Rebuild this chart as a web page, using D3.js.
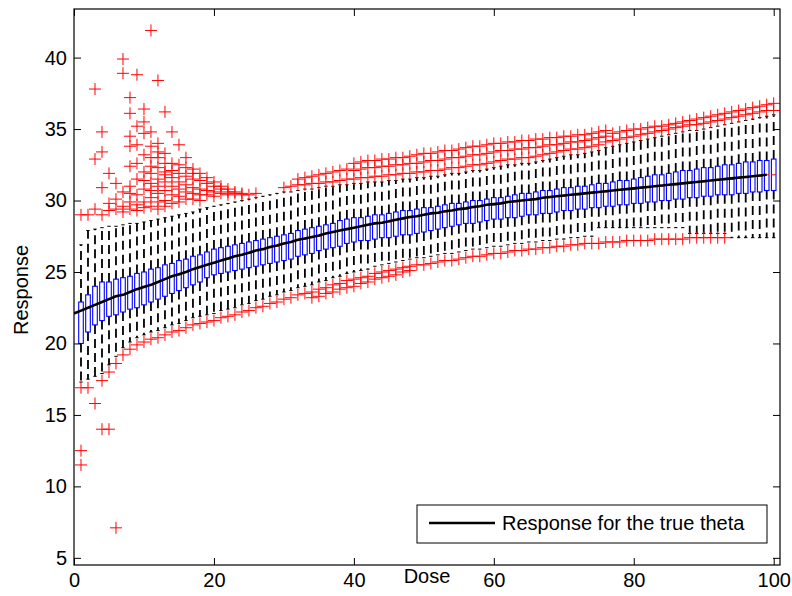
<!DOCTYPE html>
<html>
<head>
<meta charset="utf-8">
<script src="https://cdn.jsdelivr.net/npm/d3@7"></script>
<style>
  html, body { margin: 0; padding: 0; background: #fff; }
  svg text { font-family: "Liberation Sans", Arial, Helvetica, sans-serif; }
</style>
</head>
<body>
<div id="chart"></div>
<script>

// ---- data ----
var doses = d3.range(1, 101);

var boxLow = [20.0, 20.8, 21.3, 21.6, 21.9, 22.0, 22.2, 22.4, 22.5, 22.7,
  22.9, 23.1, 23.3, 23.5, 23.7, 23.9, 24.1, 24.3, 24.6, 24.8,
  24.9, 25.0, 25.1, 25.2, 25.3, 25.4, 25.5, 25.6, 25.7, 25.8,
  25.9, 26.1, 26.2, 26.3, 26.5, 26.6, 26.7, 26.8, 27.0, 27.1,
  27.2, 27.2, 27.3, 27.4, 27.4, 27.5, 27.6, 27.6, 27.7, 27.8,
  27.9, 28.0, 28.1, 28.2, 28.3, 28.4, 28.4, 28.5, 28.6, 28.7,
  28.7, 28.8, 28.8, 28.9, 29.0, 29.0, 29.1, 29.1, 29.2, 29.3,
  29.3, 29.4, 29.4, 29.5, 29.5, 29.6, 29.6, 29.7, 29.7, 29.8,
  29.8, 29.9, 29.9, 30.0, 30.0, 30.1, 30.1, 30.2, 30.2, 30.3,
  30.3, 30.4, 30.4, 30.4, 30.5, 30.5, 30.6, 30.6, 30.7, 30.7];

var boxMedian = [22.3, 22.5, 22.7, 22.9, 23.1, 23.3, 23.4, 23.6, 23.8, 24.0,
  24.1, 24.3, 24.5, 24.7, 24.8, 25.0, 25.2, 25.3, 25.5, 25.6,
  25.8, 25.9, 26.1, 26.2, 26.3, 26.5, 26.6, 26.7, 26.8, 27.0,
  27.1, 27.2, 27.3, 27.4, 27.5, 27.7, 27.8, 27.9, 28.0, 28.1,
  28.2, 28.3, 28.4, 28.4, 28.5, 28.6, 28.7, 28.8, 28.9, 29.0,
  29.1, 29.1, 29.2, 29.3, 29.4, 29.4, 29.5, 29.6, 29.7, 29.7,
  29.8, 29.9, 29.9, 30.0, 30.0, 30.1, 30.2, 30.2, 30.3, 30.3,
  30.4, 30.4, 30.5, 30.5, 30.6, 30.6, 30.7, 30.7, 30.8, 30.8,
  30.9, 30.9, 31.0, 31.0, 31.1, 31.1, 31.2, 31.2, 31.3, 31.3,
  31.4, 31.4, 31.5, 31.5, 31.6, 31.6, 31.7, 31.7, 31.8, 31.8];

var boxHigh = [22.9, 23.4, 24.0, 24.3, 24.3, 24.5, 24.6, 24.7, 24.9, 25.0,
  25.2, 25.3, 25.5, 25.6, 25.8, 25.9, 26.1, 26.2, 26.4, 26.6,
  26.7, 26.8, 26.9, 27.0, 27.1, 27.2, 27.3, 27.4, 27.5, 27.6,
  27.7, 27.9, 28.0, 28.1, 28.2, 28.3, 28.4, 28.6, 28.7, 28.8,
  28.8, 28.9, 29.0, 29.0, 29.1, 29.2, 29.3, 29.3, 29.4, 29.5,
  29.5, 29.6, 29.7, 29.8, 29.8, 29.9, 30.0, 30.0, 30.1, 30.2,
  30.2, 30.3, 30.4, 30.5, 30.5, 30.6, 30.7, 30.7, 30.8, 30.9,
  30.9, 31.0, 31.0, 31.1, 31.2, 31.2, 31.3, 31.4, 31.4, 31.5,
  31.6, 31.7, 31.8, 31.8, 31.9, 32.0, 32.1, 32.1, 32.2, 32.3,
  32.3, 32.4, 32.5, 32.5, 32.6, 32.7, 32.7, 32.8, 32.8, 32.9];

var whiskerLow = [17.3, 17.5, 17.7, 17.9, 18.5, 19.1, 19.7, 20.1, 20.4, 20.6,
  20.8, 20.9, 21.1, 21.3, 21.4, 21.6, 21.8, 21.9, 22.0, 22.1,
  22.3, 22.4, 22.5, 22.7, 22.8, 23.0, 23.1, 23.3, 23.4, 23.6,
  23.7, 23.9, 24.0, 24.1, 24.3, 24.4, 24.6, 24.7, 24.9, 25.0,
  25.1, 25.2, 25.4, 25.5, 25.6, 25.7, 25.8, 25.9, 26.0, 26.0,
  26.1, 26.2, 26.3, 26.3, 26.4, 26.5, 26.6, 26.6, 26.7, 26.8,
  26.8, 26.9, 27.0, 27.0, 27.1, 27.1, 27.2, 27.2, 27.3, 27.3,
  27.4, 27.4, 27.5, 27.5, 28.1, 28.1, 28.1, 28.1, 28.1, 28.1,
  28.1, 28.1, 28.1, 28.1, 28.1, 28.1, 28.1, 27.7, 27.7, 27.7,
  27.7, 27.7, 27.7, 27.4, 27.4, 27.4, 27.4, 27.4, 27.4, 27.4];

var whiskerHigh = [26.9, 27.9, 28.0, 28.1, 28.2, 28.2, 28.3, 28.4, 28.4, 28.5,
  28.6, 28.7, 28.8, 28.9, 29.0, 29.1, 29.2, 29.4, 29.5, 29.6,
  29.7, 29.8, 29.9, 30.0, 30.1, 30.2, 30.3, 30.4, 30.5, 30.6,
  30.6, 30.7, 30.8, 30.8, 30.9, 31.0, 31.0, 31.1, 31.1, 31.2,
  31.2, 31.3, 31.3, 31.3, 31.4, 31.4, 31.5, 31.5, 31.6, 31.6,
  31.7, 31.7, 31.8, 31.9, 31.9, 32.0, 32.1, 32.1, 32.2, 32.3,
  32.4, 32.5, 32.5, 32.6, 32.6, 32.7, 32.8, 32.9, 33.0, 33.1,
  33.2, 33.2, 33.3, 33.4, 33.5, 33.7, 33.8, 33.9, 34.0, 34.1,
  34.2, 34.3, 34.4, 34.5, 34.6, 34.7, 34.8, 34.9, 34.9, 35.0,
  35.1, 35.2, 35.3, 35.4, 35.5, 35.6, 35.7, 35.8, 35.9, 36.0];

// outliers above the upper whisker, one list per dose
var outliersHigh = [
  [29.0], [29.0], [37.8, 32.9, 29.4], [34.8, 33.4, 30.9, 29.0], [31.9, 29.8, 29.3],
  [31.2, 30.1, 29.4], [39.9, 38.9, 30.6, 29.6, 29.2], [37.2, 36.1, 34.5, 33.8, 32.4, 31.0, 30.5, 29.9, 29.4],
  [38.8, 35.2, 33.9, 32.6, 31.5, 30.4, 29.7, 29.3], [36.4, 35.5, 34.7, 33.2, 32.0, 31.4, 30.8, 29.9, 29.5],
  [41.9, 34.8, 33.8, 33.0, 32.4, 31.9, 31.2, 30.7, 30.2, 29.6], [38.4, 34.0, 33.4, 33.0, 32.3, 31.5, 31.0, 30.5, 29.9, 29.4],
  [36.2, 33.3, 32.6, 32.0, 31.8, 31.3, 30.7, 30.0, 29.6], [34.8, 32.6, 32.1, 31.6, 31.0, 30.4, 29.8],
  [33.9, 32.5, 31.9, 31.3, 30.8, 30.3, 29.9], [33.0, 32.3, 31.7, 31.1, 30.6, 30.1],
  [32.2, 31.9, 31.5, 30.9, 30.5, 30.1], [31.9, 31.4, 30.8, 30.4, 30.0], [31.6, 31.2, 30.7, 30.4],
  [31.3, 31.0, 30.6, 30.3], [31.0, 30.8, 30.5], [30.8, 30.6, 30.4], [30.6, 30.5], [30.5, 30.4],
  [30.4], [30.5], [], [], [], [30.9],
  [31.0], [31.1, 31.5], [31.1, 31.6], [31.2, 31.7], [31.2, 31.8],
  [31.3, 31.9], [31.3, 32.0], [31.4, 32.1], [31.5, 32.2], [31.5, 32.1, 32.6],
  [31.6, 32.2, 32.7], [31.6, 32.3, 32.8], [31.7, 32.3, 32.8], [31.7, 32.4, 32.9], [31.8, 32.4, 32.9],
  [31.8, 32.5, 33.0], [31.9, 32.5, 33.0], [31.9, 32.6, 33.1], [32.0, 32.6, 33.2], [32.0, 32.7, 33.3],
  [32.1, 32.8, 33.3], [32.1, 32.8, 33.4], [32.2, 32.9, 33.5], [32.3, 33.0, 33.5], [32.3, 33.0, 33.6],
  [32.4, 33.1, 33.7], [32.5, 33.2, 33.8], [32.5, 33.2, 33.8], [32.6, 33.3, 33.9], [32.7, 33.4, 34.0],
  [32.8, 33.5, 34.0], [32.9, 33.5, 34.1], [32.9, 33.6, 34.1], [33.0, 33.6, 34.2], [33.0, 33.7, 34.2],
  [33.1, 33.7, 34.3], [33.2, 33.8, 34.3], [33.3, 33.9, 34.4], [33.4, 33.9, 34.4], [33.5, 34.0, 34.5],
  [33.6, 34.1, 34.5], [33.6, 34.1, 34.6], [33.7, 34.2, 34.6], [33.8, 34.3, 34.7], [33.9, 34.4, 34.8],
  [34.1, 34.5, 34.9], [34.2, 34.7], [34.3, 34.8], [34.4, 34.9], [34.5, 35.0],
  [34.6, 35.0], [34.7, 35.1], [34.8, 35.2], [34.9, 35.2], [35.0, 35.3],
  [35.1, 35.4], [35.2, 35.5], [35.3, 35.6], [35.3, 35.7], [35.4, 35.8],
  [35.5, 35.9], [35.6, 36.0], [35.7, 36.1], [35.8, 36.2], [35.9, 36.3],
  [36.0, 36.4], [36.1, 36.5], [36.2, 36.6], [36.3, 36.7], [36.3, 36.8]
];

// outliers below the lower whisker, one list per dose
var outliersLow = [
  [16.9, 12.5, 11.5], [16.9], [15.8], [17.4, 14.0], [18.0, 14.0],
  [18.6, 7.1], [19.2], [19.6], [19.9], [20.1],
  [20.3], [20.4], [20.6], [20.8], [20.9], [21.1], [21.3], [21.4], [21.5], [21.6],
  [21.8], [21.9], [22.0], [22.2], [22.3], [22.5], [22.6], [22.8], [22.9], [23.1],
  [23.2], [23.4], [23.5], [23.6, 23.2], [23.8, 23.3], [23.9, 23.5], [24.1, 23.6], [24.2, 23.8], [24.4, 23.9], [24.5, 24.0],
  [24.6, 24.2], [24.7, 24.3], [24.9, 24.5], [25.0, 24.6], [25.1, 24.7], [25.2, 24.8], [25.3, 25.0], [25.4, 25.1], [25.5], [25.5],
  [25.6], [25.7], [25.8], [25.8], [25.9], [26.0], [26.1], [26.1], [26.2], [26.3],
  [26.3], [26.4], [26.5], [26.5], [26.6], [26.6], [26.7], [26.7], [26.8], [26.8],
  [26.9], [26.9], [27.0], [27.0], [27.0], [27.1], [27.1], [27.1], [27.2], [27.2],
  [27.2], [27.2], [27.3], [27.3], [27.3], [27.3], [27.3], [27.4], [27.4], [27.4],
  [27.4], [27.4], [27.4], [], [], [], [], [], [], []
];

// response for the true theta
var curveDose = d3.range(0, 100);
var curveResponse = [22.1, 22.3, 22.5, 22.7, 22.9, 23.1, 23.3, 23.4, 23.6, 23.8,
  23.95, 24.1, 24.3, 24.5, 24.7, 24.85, 25.0, 25.2, 25.35, 25.5,
  25.65, 25.8, 25.95, 26.1, 26.2, 26.35, 26.5, 26.6, 26.75, 26.85,
  27.0, 27.1, 27.25, 27.35, 27.45, 27.55, 27.7, 27.8, 27.9, 28.0,
  28.1, 28.2, 28.3, 28.4, 28.45, 28.55, 28.65, 28.75, 28.85, 28.9,
  29.0, 29.1, 29.15, 29.25, 29.3, 29.4, 29.45, 29.55, 29.6, 29.7,
  29.75, 29.8, 29.9, 29.95, 30.0, 30.05, 30.1, 30.2, 30.25, 30.3,
  30.35, 30.4, 30.45, 30.5, 30.55, 30.6, 30.65, 30.7, 30.75, 30.8,
  30.85, 30.9, 30.95, 31.0, 31.05, 31.1, 31.15, 31.2, 31.25, 31.3,
  31.35, 31.4, 31.45, 31.5, 31.55, 31.6, 31.65, 31.7, 31.75, 31.8];

var xTicks = [0, 20, 40, 60, 80, 100];
var yTicks = [5, 10, 15, 20, 25, 30, 35, 40];
var legendLabel = 'Response for the true theta';


// ---- drawing ----
function drawChart() {

  var width = 792;
  var height = 596;
  var left = 74, right = 780, top = 9, bottom = 565;

  var svg = d3.select('#chart').append('svg')
    .attr('width', width).attr('height', height);

  svg.append('rect').attr('width', width).attr('height', height).attr('fill', '#fff');

  var x = d3.scaleLinear().domain([0, 100.9]).range([left, right]);
  var y = d3.scaleLinear().domain([4.5, 43.4]).range([bottom, top]);

  svg.append('clipPath').attr('id', 'plotclip')
    .append('rect').attr('x', left).attr('y', top)
    .attr('width', right - left).attr('height', bottom - top);

  var plot = svg.append('g').attr('clip-path', 'url(#plotclip)');

  var boxes = doses.map(function(d, i) {
    return {
      dose: d, q1: boxLow[i], med: boxMedian[i], q3: boxHigh[i],
      lo: whiskerLow[i], hi: whiskerHigh[i]
    };
  });

  var boxW = 4.6;
  var capW = 3.4;

  // whiskers, dashed
  plot.append('g').selectAll('line.up')
    .data(boxes).enter().append('line')
    .attr('x1', function(d) { return x(d.dose); })
    .attr('x2', function(d) { return x(d.dose); })
    .attr('y1', function(d) { return y(d.q3); })
    .attr('y2', function(d) { return y(d.hi); })
    .attr('stroke', '#000').attr('stroke-width', 1.8)
    .attr('stroke-dasharray', '9,5');

  plot.append('g').selectAll('line.down')
    .data(boxes).enter().append('line')
    .attr('x1', function(d) { return x(d.dose); })
    .attr('x2', function(d) { return x(d.dose); })
    .attr('y1', function(d) { return y(d.q1); })
    .attr('y2', function(d) { return y(d.lo); })
    .attr('stroke', '#000').attr('stroke-width', 1.8)
    .attr('stroke-dasharray', '9,5');

  // whisker caps
  var caps = plot.append('g').attr('stroke', '#000').attr('stroke-width', 1);
  caps.selectAll('line.hi').data(boxes).enter().append('line')
    .attr('x1', function(d) { return x(d.dose) - capW / 2; })
    .attr('x2', function(d) { return x(d.dose) + capW / 2; })
    .attr('y1', function(d) { return y(d.hi); })
    .attr('y2', function(d) { return y(d.hi); });
  caps.selectAll('line.lo').data(boxes).enter().append('line')
    .attr('x1', function(d) { return x(d.dose) - capW / 2; })
    .attr('x2', function(d) { return x(d.dose) + capW / 2; })
    .attr('y1', function(d) { return y(d.lo); })
    .attr('y2', function(d) { return y(d.lo); });

  // boxes
  plot.append('g').selectAll('rect')
    .data(boxes).enter().append('rect')
    .attr('x', function(d) { return x(d.dose) - boxW / 2; })
    .attr('y', function(d) { return y(d.q3); })
    .attr('width', boxW)
    .attr('height', function(d) { return y(d.q1) - y(d.q3); })
    .attr('fill', 'none').attr('stroke', '#0000ff').attr('stroke-width', 1.1);

  // medians
  plot.append('g').selectAll('line')
    .data(boxes).enter().append('line')
    .attr('x1', function(d) { return x(d.dose) - boxW / 2; })
    .attr('x2', function(d) { return x(d.dose) + boxW / 2; })
    .attr('y1', function(d) { return y(d.med); })
    .attr('y2', function(d) { return y(d.med); })
    .attr('stroke', '#ff0000').attr('stroke-width', 1);

  // outliers as red plus signs
  var pts = [];
  doses.forEach(function(d, i) {
    outliersHigh[i].forEach(function(v) { pts.push([d, v]); });
    outliersLow[i].forEach(function(v) { pts.push([d, v]); });
  });
  var s = 6;
  plot.append('g').selectAll('path')
    .data(pts).enter().append('path')
    .attr('d', function(p) {
      var cx = x(p[0]), cy = y(p[1]);
      return 'M' + (cx - s) + ',' + cy + 'H' + (cx + s) +
             'M' + cx + ',' + (cy - s) + 'V' + (cy + s);
    })
    .attr('fill', 'none').attr('stroke', '#ff0000').attr('stroke-width', 1);

  // true response curve
  var line = d3.line()
    .x(function(d, i) { return x(curveDose[i]); })
    .y(function(d) { return y(d); });
  plot.append('path').datum(curveResponse)
    .attr('d', line)
    .attr('fill', 'none').attr('stroke', '#000').attr('stroke-width', 2.6);

  // axes, ticks inside like matlab
  var fs = '20px';
  svg.append('g').attr('transform', 'translate(0,' + bottom + ')')
    .call(d3.axisBottom(x).tickValues(xTicks).tickSize(-7).tickSizeOuter(0).tickPadding(8));
  svg.append('g').attr('transform', 'translate(' + left + ',0)')
    .call(d3.axisLeft(y).tickValues(yTicks).tickSize(-7).tickSizeOuter(0).tickPadding(7));
  svg.append('g').attr('transform', 'translate(0,' + top + ')')
    .call(d3.axisTop(x).tickValues(xTicks).tickSize(-7).tickSizeOuter(0).tickFormat(''));
  svg.append('g').attr('transform', 'translate(' + right + ',0)')
    .call(d3.axisRight(y).tickValues(yTicks).tickSize(-7).tickSizeOuter(0).tickFormat(''));

  svg.selectAll('.tick text')
    .attr('font-size', fs).attr('fill', '#000')
    .style('font-family', '"Liberation Sans", Arial, sans-serif');
  svg.selectAll('.domain').remove();
  svg.selectAll('.tick line').attr('stroke', '#000');

  svg.append('rect')
    .attr('x', left).attr('y', top)
    .attr('width', right - left).attr('height', bottom - top)
    .attr('fill', 'none').attr('stroke', '#000').attr('stroke-width', 1.2);

  // axis labels
  svg.append('text')
    .attr('x', 427).attr('y', 583)
    .attr('text-anchor', 'middle').attr('font-size', fs)
    .text('Dose');

  svg.append('text')
    .attr('transform', 'translate(28,290) rotate(-90)')
    .attr('text-anchor', 'middle').attr('font-size', fs)
    .text('Response');

  // legend
  var lg = svg.append('g');
  lg.append('rect')
    .attr('x', 417).attr('y', 505).attr('width', 350).attr('height', 38)
    .attr('fill', '#fff').attr('stroke', '#000').attr('stroke-width', 1);
  lg.append('line')
    .attr('x1', 429).attr('x2', 495).attr('y1', 523).attr('y2', 523)
    .attr('stroke', '#000').attr('stroke-width', 2.6);
  lg.append('text')
    .attr('x', 502).attr('y', 530).attr('font-size', fs)
    .text(legendLabel);
}

drawChart();
</script>
</body>
</html>
